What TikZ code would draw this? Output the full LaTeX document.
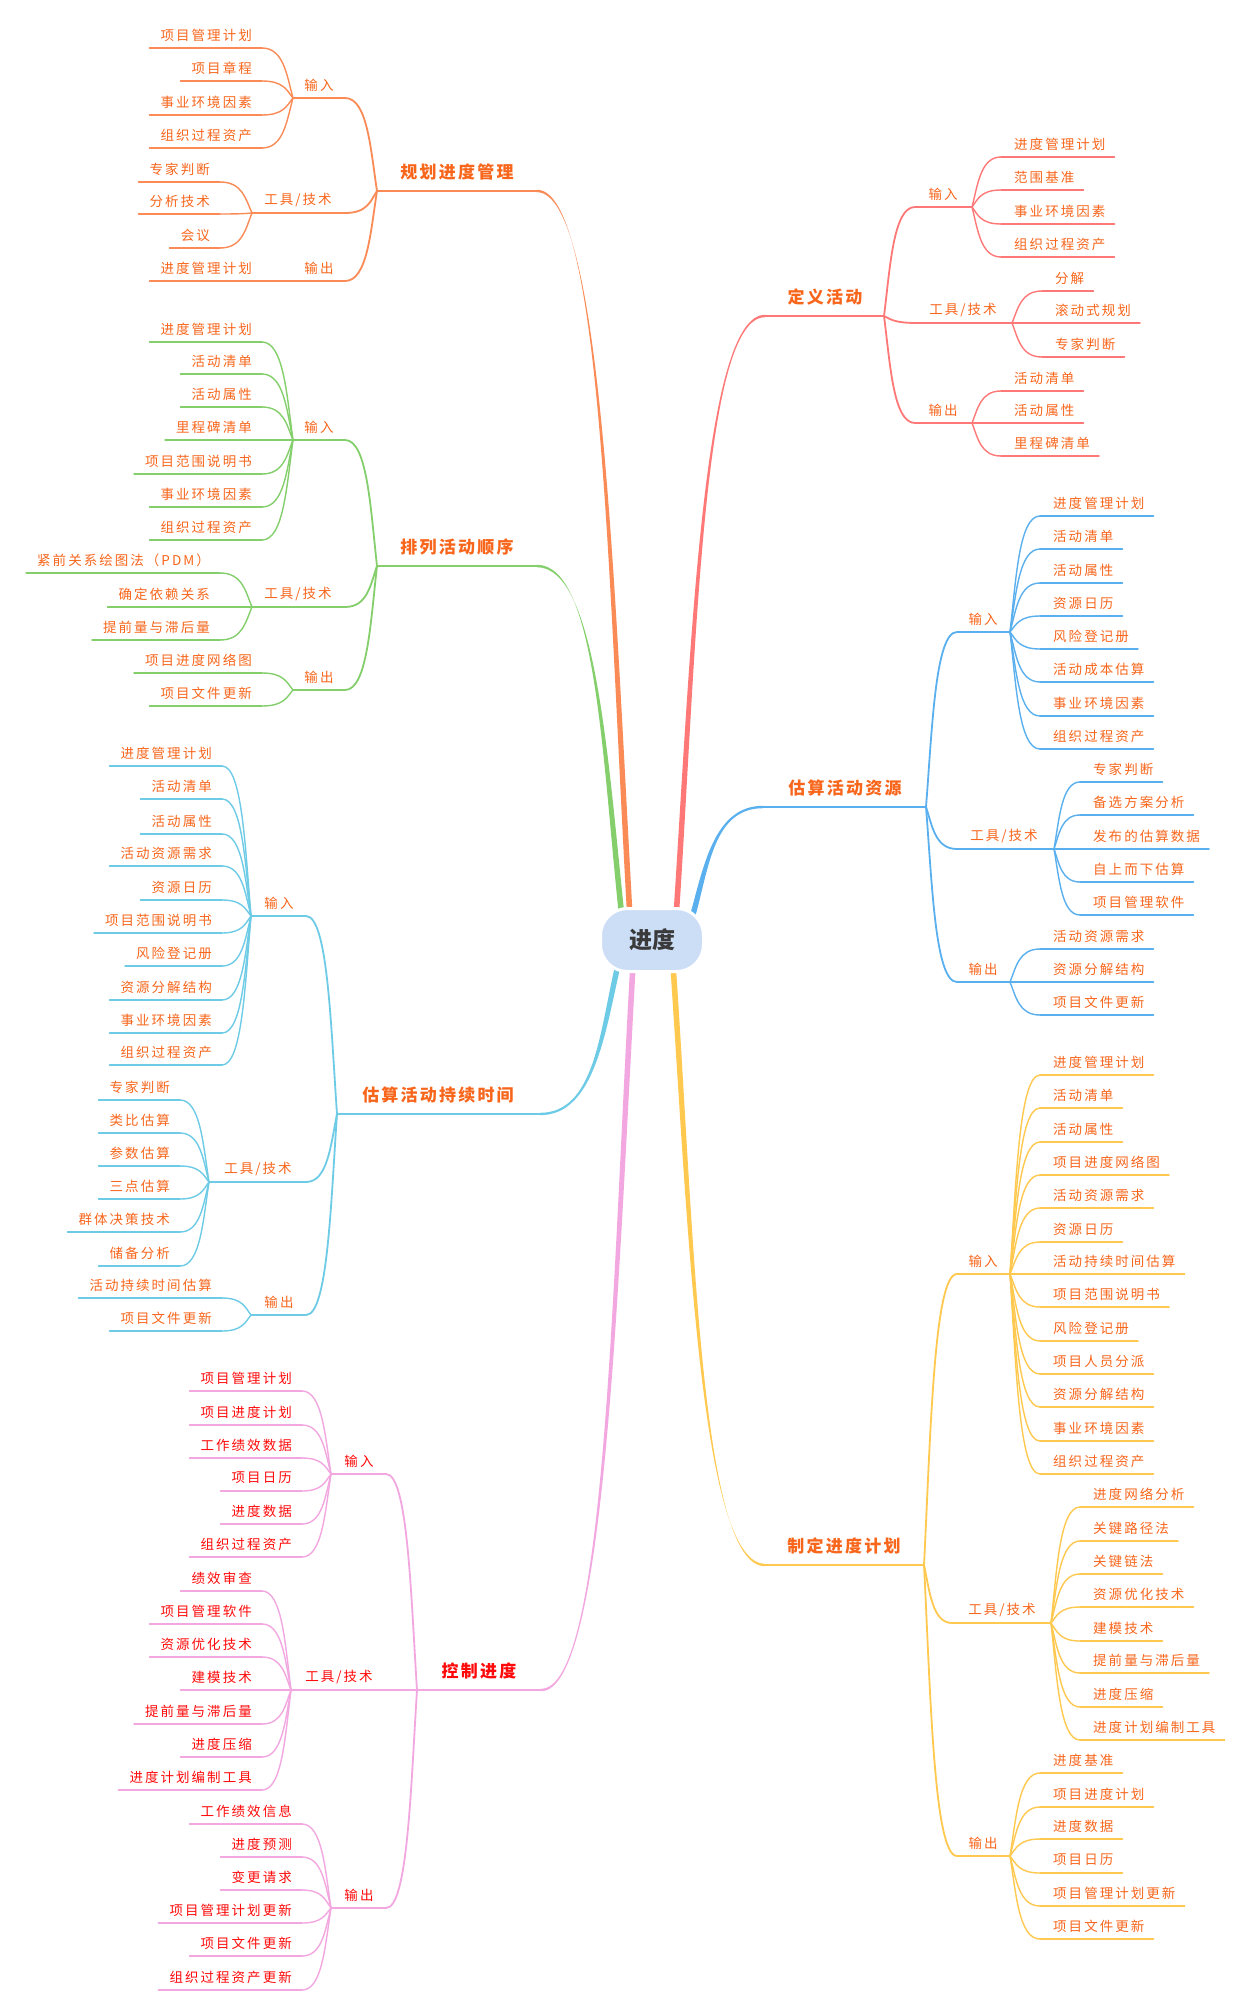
\documentclass[tikz,border=0pt]{standalone}
\usepackage{fontspec}
\usepackage{tikz}
\usetikzlibrary{calc}

\newfontfamily\cjk[LetterSpace=15]{Noto Sans CJK SC}
\newfontfamily\cjktopic[LetterSpace=13]{Noto Sans CJK SC}
\newfontfamily\cjkroot{Noto Sans CJK SC}

\definecolor{cOr}{HTML}{FA8A56}
\definecolor{cGr}{HTML}{84CF6C}
\definecolor{cRd}{HTML}{FF7878}
\definecolor{cBl}{HTML}{5AB0EE}
\definecolor{cCy}{HTML}{6ECBE6}
\definecolor{cYe}{HTML}{FFC84F}
\definecolor{cPk}{HTML}{F2A7E0}
\definecolor{labc}{HTML}{F8661C}
\definecolor{labred}{HTML}{FF0A0A}
\definecolor{rootfill}{HTML}{CCDDF6}
\definecolor{roottext}{HTML}{3A3A3A}

% curved link: child end -> junction
\newcommand\lnk[3][]{\draw[#1] let \p1=(#2), \p2=(#3) in
  (\p1) .. controls ({0.3*\x1+0.7*\x2},{\y1}) and ({0.8*\x2+0.2*\x1},{0.55*\y2+0.45*\y1}) .. (\p2);}
% tapered link from a topic to the root
\newcommand\mainlnk[3]{\fill[#1] let \p1=(#2), \p2=(#3) in
  ({\x1},{\y1+1.2}) .. controls ({0.3*\x1+0.7*\x2},{\y1+1.2}) and ({0.8*\x2+0.2*\x1-2.8},{0.55*\y2+0.45*\y1}) .. ({\x2-2.8},{\y2})
  -- ({\x2+2.8},{\y2}) .. controls ({0.8*\x2+0.2*\x1+2.8},{0.55*\y2+0.45*\y1}) and ({0.3*\x1+0.7*\x2},{\y1-1.2}) .. ({\x1},{\y1-1.2}) -- cycle;}
% leaves on the left / right of a junction
\newcommand\leavesL[5]{%
  \foreach \yy/\txt [count=\i] in {#5} {
    \node[leaf, text=#4, anchor=east] (#2-\i) at (#3-10,\yy-13) {\txt};
    \coordinate (#2-\i-e) at (#3,\yy);
    \draw[#1] ($(#2-\i.west |- #2-\i-e)+(-11pt,0)$) -- (#2-\i-e);
    \lnk[#1]{#2-\i-e}{#2}
  }}
\newcommand\leavesR[5]{%
  \foreach \yy/\txt [count=\i] in {#5} {
    \node[leaf, text=#4, anchor=west] (#2-\i) at (#3+13,\yy-13) {\txt};
    \coordinate (#2-\i-s) at (#3,\yy);
    \draw[#1] (#2-\i-s) -- ($(#2-\i.east |- #2-\i-s)+(9pt,0)$);
    \lnk[#1]{#2-\i-s}{#2}
  }}

\begin{document}
\begin{tikzpicture}[x=1pt,y=-1pt,
  leaf/.style={font={\cjk\fontsize{13.5}{13.5}\selectfont}, inner sep=0pt},
  sublbl/.style={font={\cjk\fontsize{13.5}{13.5}\selectfont}, inner sep=0pt},
  topiclbl/.style={font={\cjktopic\bfseries\fontsize{17}{17}\selectfont}, inner sep=0pt},
  rootbox/.style={fill=rootfill, draw=white, line width=3pt, rounded corners=27pt,
    minimum width=103pt, minimum height=63pt, text=roottext,
    font={\cjkroot\bfseries\fontsize{23}{23}\selectfont}},
  leafln/.style={line width=1.4pt, line cap=round},
  subln/.style={line width=1.8pt, line cap=round},
  topicln/.style={line width=2.4pt, line cap=round}
]
  \fill[white] (0,0) rectangle (1251,2012);
  \useasboundingbox (0,0) rectangle (1251,2012);

  % root ends
  \coordinate (r1) at (630,918);
  \coordinate (r2) at (622,918);
  \coordinate (r3) at (676,918);
  \coordinate (r4) at (692,918);
  \coordinate (r5) at (618,965);
  \coordinate (r6) at (673,965);
  \coordinate (r7) at (633,965);

  % ---- 排列活动顺序 (green)
  \coordinate (t2) at (377,566); \coordinate (t2n) at (537,566);
  \mainlnk{cGr}{t2n}{r2}
  \draw[cGr, topicln] (t2) -- (t2n);
  \node[topiclbl, text=labc] (t2l) at (457,547) {排列活动顺序};
  \coordinate (s21) at (293,440); \coordinate (s21n) at (345,440);
  \draw[cGr, subln] (s21) -- (s21n); \lnk[cGr, subln]{s21n}{t2}
  \node[sublbl, text=labc] (s21l) at (319,427) {输入};
  \leavesL{cGr, leafln}{s21}{262}{labc}{342/进度管理计划, 374/活动清单, 407/活动属性, 440/里程碑清单, 474/项目范围说明书, 507/事业环境因素, 540/组织过程资产}
  \coordinate (s22) at (252,607); \coordinate (s22n) at (345,607);
  \draw[cGr, subln] (s22) -- (s22n); \lnk[cGr, subln]{s22n}{t2}
  \node[sublbl, text=labc] (s22l) at (298,594) {工具/技术};
  \leavesL{cGr, leafln}{s22}{220}{labc}{573/紧前关系绘图法（PDM）, 607/确定依赖关系, 640/提前量与滞后量}
  \coordinate (s23) at (293,690); \coordinate (s23n) at (345,690);
  \draw[cGr, subln] (s23) -- (s23n); \lnk[cGr, subln]{s23n}{t2}
  \node[sublbl, text=labc] (s23l) at (319,677) {输出};
  \leavesL{cGr, leafln}{s23}{262}{labc}{673/项目进度网络图, 706/项目文件更新}

  % ---- 规划进度管理 (orange)
  \coordinate (t1) at (377,191); \coordinate (t1n) at (537,191);
  \mainlnk{cOr}{t1n}{r1}
  \draw[cOr, topicln] (t1) -- (t1n);
  \node[topiclbl, text=labc] (t1l) at (457,172) {规划进度管理};
  \coordinate (s11) at (293,98); \coordinate (s11n) at (345,98);
  \draw[cOr, subln] (s11) -- (s11n); \lnk[cOr, subln]{s11n}{t1}
  \node[sublbl, text=labc] (s11l) at (319,85) {输入};
  \leavesL{cOr, leafln}{s11}{262}{labc}{48/项目管理计划, 81/项目章程, 115/事业环境因素, 148/组织过程资产}
  \coordinate (s12) at (252,213); \coordinate (s12n) at (345,213);
  \draw[cOr, subln] (s12) -- (s12n); \lnk[cOr, subln]{s12n}{t1}
  \node[sublbl, text=labc] (s12l) at (298,200) {工具/技术};
  \leavesL{cOr, leafln}{s12}{220}{labc}{182/专家判断, 214/分析技术, 248/会议}
  \coordinate (s13) at (293,281); \coordinate (s13n) at (345,281);
  \draw[cOr, subln] (s13) -- (s13n); \lnk[cOr, subln]{s13n}{t1}
  \node[sublbl, text=labc] (s13l) at (319,268) {输出};
  \leavesL{cOr, leafln}{s13}{262}{labc}{281/进度管理计划}

  % ---- 定义活动 (red)
  \coordinate (t3) at (884,316); \coordinate (t3n) at (765,316);
  \mainlnk{cRd}{t3n}{r3}
  \draw[cRd, topicln] (t3n) -- (t3);
  \node[topiclbl, text=labc] (t3l) at (825,297) {定义活动};
  \coordinate (s31) at (972,207); \coordinate (s31n) at (915,207);
  \draw[cRd, subln] (s31n) -- (s31); \lnk[cRd, subln]{s31n}{t3}
  \node[sublbl, text=labc] (s31l) at (943,194) {输入};
  \leavesR{cRd, leafln}{s31}{1001}{labc}{157/进度管理计划, 190/范围基准, 224/事业环境因素, 257/组织过程资产}
  \coordinate (s32) at (1012,323); \coordinate (s32n) at (917,323);
  \draw[cRd, subln] (s32n) -- (s32); \lnk[cRd, subln]{s32n}{t3}
  \node[sublbl, text=labc] (s32l) at (963,310) {工具/技术};
  \leavesR{cRd, leafln}{s32}{1042}{labc}{291/分解, 323/滚动式规划, 357/专家判断}
  \coordinate (s33) at (972,423); \coordinate (s33n) at (915,423);
  \draw[cRd, subln] (s33n) -- (s33); \lnk[cRd, subln]{s33n}{t3}
  \node[sublbl, text=labc] (s33l) at (943,410) {输出};
  \leavesR{cRd, leafln}{s33}{1001}{labc}{391/活动清单, 423/活动属性, 456/里程碑清单}

  % ---- 估算活动资源 (blue)
  \coordinate (t4) at (926,807); \coordinate (t4n) at (763,807);
  \mainlnk{cBl}{t4n}{r4}
  \draw[cBl, topicln] (t4n) -- (t4);
  \node[topiclbl, text=labc] (t4l) at (845,788) {估算活动资源};
  \coordinate (s41) at (1010,632); \coordinate (s41n) at (957,632);
  \draw[cBl, subln] (s41n) -- (s41); \lnk[cBl, subln]{s41n}{t4}
  \node[sublbl, text=labc] (s41l) at (983,619) {输入};
  \leavesR{cBl, leafln}{s41}{1040}{labc}{516/进度管理计划, 549/活动清单, 583/活动属性, 616/资源日历, 649/风险登记册, 682/活动成本估算, 716/事业环境因素, 749/组织过程资产}
  \coordinate (s42) at (1054,849); \coordinate (s42n) at (957,849);
  \draw[cBl, subln] (s42n) -- (s42); \lnk[cBl, subln]{s42n}{t4}
  \node[sublbl, text=labc] (s42l) at (1004,836) {工具/技术};
  \leavesR{cBl, leafln}{s42}{1080}{labc}{782/专家判断, 815/备选方案分析, 849/发布的估算数据, 882/自上而下估算, 915/项目管理软件}
  \coordinate (s43) at (1010,982); \coordinate (s43n) at (957,982);
  \draw[cBl, subln] (s43n) -- (s43); \lnk[cBl, subln]{s43n}{t4}
  \node[sublbl, text=labc] (s43l) at (983,969) {输出};
  \leavesR{cBl, leafln}{s43}{1040}{labc}{949/活动资源需求, 982/资源分解结构, 1015/项目文件更新}

  % ---- 估算活动持续时间 (cyan)
  \coordinate (t5) at (337,1114); \coordinate (t5n) at (540,1114);
  \mainlnk{cCy}{t5n}{r5}
  \draw[cCy, topicln] (t5) -- (t5n);
  \node[topiclbl, text=labc] (t5l) at (438,1095) {估算活动持续时间};
  \coordinate (s51) at (251,916); \coordinate (s51n) at (306,916);
  \draw[cCy, subln] (s51) -- (s51n); \lnk[cCy, subln]{s51n}{t5}
  \node[sublbl, text=labc] (s51l) at (279,903) {输入};
  \leavesL{cCy, leafln}{s51}{222}{labc}{766/进度管理计划, 799/活动清单, 834/活动属性, 866/活动资源需求, 900/资源日历, 933/项目范围说明书, 966/风险登记册, 1000/资源分解结构, 1033/事业环境因素, 1065/组织过程资产}
  \coordinate (s52) at (209,1182); \coordinate (s52n) at (306,1182);
  \draw[cCy, subln] (s52) -- (s52n); \lnk[cCy, subln]{s52n}{t5}
  \node[sublbl, text=labc] (s52l) at (258,1169) {工具/技术};
  \leavesL{cCy, leafln}{s52}{180}{labc}{1100/专家判断, 1133/类比估算, 1166/参数估算, 1199/三点估算, 1232/群体决策技术, 1266/储备分析}
  \coordinate (s53) at (251,1315); \coordinate (s53n) at (306,1315);
  \draw[cCy, subln] (s53) -- (s53n); \lnk[cCy, subln]{s53n}{t5}
  \node[sublbl, text=labc] (s53l) at (279,1302) {输出};
  \leavesL{cCy, leafln}{s53}{222}{labc}{1298/活动持续时间估算, 1331/项目文件更新}

  % ---- 制定进度计划 (yellow)
  \coordinate (t6) at (924,1565); \coordinate (t6n) at (765,1565);
  \mainlnk{cYe}{t6n}{r6}
  \draw[cYe, topicln] (t6n) -- (t6);
  \node[topiclbl, text=labc] (t6l) at (844,1546) {制定进度计划};
  \coordinate (s61) at (1010,1274); \coordinate (s61n) at (957,1274);
  \draw[cYe, subln] (s61n) -- (s61); \lnk[cYe, subln]{s61n}{t6}
  \node[sublbl, text=labc] (s61l) at (983,1261) {输入};
  \leavesR{cYe, leafln}{s61}{1040}{labc}{1075/进度管理计划, 1108/活动清单, 1142/活动属性, 1175/项目进度网络图, 1208/活动资源需求, 1242/资源日历, 1274/活动持续时间估算, 1307/项目范围说明书, 1341/风险登记册, 1374/项目人员分派, 1407/资源分解结构, 1441/事业环境因素, 1474/组织过程资产}
  \coordinate (s62) at (1051,1623); \coordinate (s62n) at (952,1623);
  \draw[cYe, subln] (s62n) -- (s62); \lnk[cYe, subln]{s62n}{t6}
  \node[sublbl, text=labc] (s62l) at (1002,1610) {工具/技术};
  \leavesR{cYe, leafln}{s62}{1080}{labc}{1507/进度网络分析, 1541/关键路径法, 1574/关键链法, 1607/资源优化技术, 1641/建模技术, 1673/提前量与滞后量, 1707/进度压缩, 1740/进度计划编制工具}
  \coordinate (s63) at (1010,1856); \coordinate (s63n) at (957,1856);
  \draw[cYe, subln] (s63n) -- (s63); \lnk[cYe, subln]{s63n}{t6}
  \node[sublbl, text=labc] (s63l) at (983,1843) {输出};
  \leavesR{cYe, leafln}{s63}{1040}{labc}{1773/进度基准, 1807/项目进度计划, 1839/进度数据, 1873/项目日历, 1906/项目管理计划更新, 1939/项目文件更新}

  % ---- 控制进度 (pink)
  \coordinate (t7) at (417,1690); \coordinate (t7n) at (541,1690);
  \mainlnk{cPk}{t7n}{r7}
  \draw[cPk, topicln] (t7) -- (t7n);
  \node[topiclbl, text=labred] (t7l) at (479,1671) {控制进度};
  \coordinate (s71) at (331,1474); \coordinate (s71n) at (386,1474);
  \draw[cPk, subln] (s71) -- (s71n); \lnk[cPk, subln]{s71n}{t7}
  \node[sublbl, text=labred] (s71l) at (359,1461) {输入};
  \leavesL{cPk, leafln}{s71}{302}{labred}{1391/项目管理计划, 1425/项目进度计划, 1458/工作绩效数据, 1491/项目日历, 1524/进度数据, 1557/组织过程资产}
  \coordinate (s72) at (291,1690); \coordinate (s72n) at (386,1690);
  \draw[cPk, subln] (s72) -- (s72n); \lnk[cPk, subln]{s72n}{t7}
  \node[sublbl, text=labred] (s72l) at (339,1677) {工具/技术};
  \leavesL{cPk, leafln}{s72}{262}{labred}{1591/绩效审查, 1624/项目管理软件, 1657/资源优化技术, 1690/建模技术, 1724/提前量与滞后量, 1757/进度压缩, 1790/进度计划编制工具}
  \coordinate (s73) at (331,1908); \coordinate (s73n) at (386,1908);
  \draw[cPk, subln] (s73) -- (s73n); \lnk[cPk, subln]{s73n}{t7}
  \node[sublbl, text=labred] (s73l) at (359,1895) {输出};
  \leavesL{cPk, leafln}{s73}{302}{labred}{1824/工作绩效信息, 1857/进度预测, 1890/变更请求, 1923/项目管理计划更新, 1956/项目文件更新, 1990/组织过程资产更新}

  % root on top
  \node[rootbox] (root) at (652,940) {进度};
\end{tikzpicture}
\end{document}
